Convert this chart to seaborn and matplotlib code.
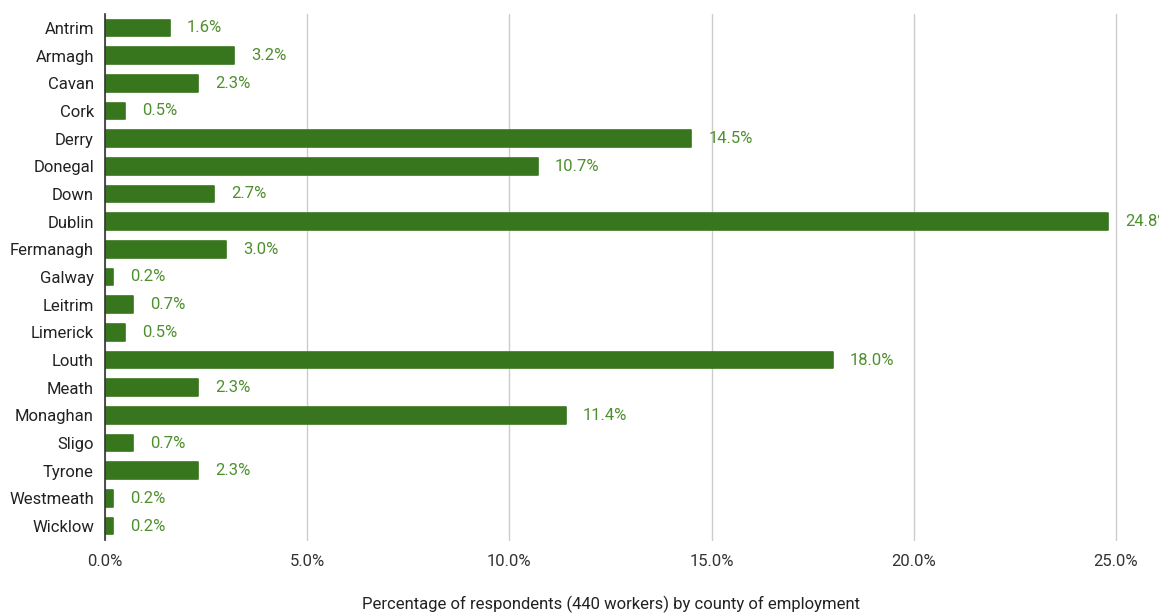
import matplotlib
matplotlib.use("Agg")
import matplotlib.pyplot as plt
import seaborn as sns
import pandas as pd

counties = ["Antrim", "Armagh", "Cavan", "Cork", "Derry", "Donegal", "Down", "Dublin",
            "Fermanagh", "Galway", "Leitrim", "Limerick", "Louth", "Meath", "Monaghan",
            "Sligo", "Tyrone", "Westmeath", "Wicklow"]
values = [1.6, 3.2, 2.3, 0.5, 14.5, 10.7, 2.7, 24.8, 3.0, 0.2, 0.7, 0.5, 18.0, 2.3,
          11.4, 0.7, 2.3, 0.2, 0.2]
xticks = [0, 5, 10, 15, 20, 25]
xlabel = "Percentage of respondents (440 workers) by county of employment"

sns.set_theme(style="white")
plt.rcParams['font.family'] = ['Roboto', 'DejaVu Sans']

df = pd.DataFrame({"county": counties, "pct": values})

fig = plt.figure(figsize=(11.59, 6.14), dpi=100)
ax = fig.add_axes([105/1159, 1-540/614, (1116-105)/1159, (540-14)/614])

sns.barplot(data=df, y="county", x="pct", orient="h", color="#38761d",
            saturation=1, width=0.6, ax=ax, zorder=3,
            edgecolor="#38761d", linewidth=1.2)
for p in ax.patches:
    p.set_joinstyle("round")

ax.set_xlim(0, 25)
ax.set_xticks(xticks)
ax.set_xticklabels([f"{t:.1f}%" for t in xticks], fontsize=12, color="#333333")
ax.tick_params(axis="y", labelsize=12, labelcolor="#222222", length=0, pad=8)
ax.tick_params(axis="x", length=0, pad=10)
ax.grid(axis="x", color="#cccccc", linewidth=1, zorder=0)
for gl in ax.get_xgridlines():
    gl.set_clip_on(False)
ax.set_axisbelow(True)
for s in ["top", "right", "bottom"]:
    ax.spines[s].set_visible(False)
ax.spines["left"].set_color("#333333")
ax.spines["left"].set_linewidth(1.2)
ax.spines["left"].set_zorder(5)
ax.set_ylabel("")
ax.set_xlabel(xlabel, fontsize=12, color="#222222", labelpad=19)

for i, v in enumerate(values):
    ax.annotate(f"{v:.1f}%", xy=(v, i), xytext=(17, 0), textcoords="offset pixels",
                va="center", ha="left", fontsize=12, color="#4e8f2e", annotation_clip=False)

fig.savefig("out.png", dpi=100)
